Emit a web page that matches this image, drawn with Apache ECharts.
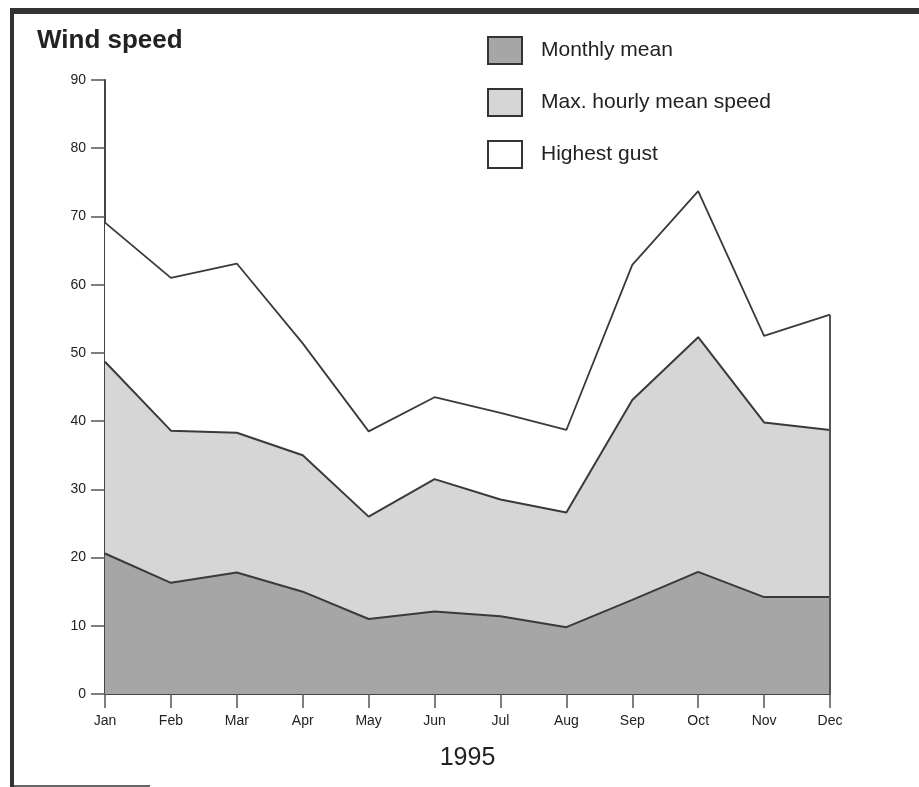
<!DOCTYPE html>
<html>
<head>
<meta charset="utf-8">
<script src="https://cdn.jsdelivr.net/npm/echarts@6/dist/echarts.min.js"></script>
<style>
html,body{margin:0;padding:0;background:#fff;}
#chart{width:919px;height:787px;}
</style>
</head>
<body>
<div id="chart"></div>
<script>
var months = ['Jan','Feb','Mar','Apr','May','Jun','Jul','Aug','Sep','Oct','Nov','Dec'];
var monthlyMean = [20.6, 16.3, 17.8, 15.0, 11.0, 12.1, 11.4, 9.8, 13.8, 17.9, 14.2, 14.2];
var maxHourly = [48.7, 38.6, 38.3, 35.0, 26.0, 31.5, 28.5, 26.6, 43.1, 52.3, 39.8, 38.7];
var highestGust = [69.1, 61.0, 63.1, 51.4, 38.5, 43.5, 41.2, 38.7, 62.9, 73.7, 52.5, 55.6];
var yearLabel = '1995';

var chart = echarts.init(document.getElementById('chart'), null, {renderer:'canvas'});
var lineCol = '#3a3a3a';
var font = 'Liberation Sans, Arial, sans-serif';

var option = {
  backgroundColor: '#ffffff',
  animation: false,
  title: {
    text: 'Wind speed',
    left: 32, top: 23,
    textStyle: {fontFamily: font, fontSize: 26, fontWeight: 'bold', color: '#222'}
  },
  legend: {
    orient: 'vertical',
    left: 482, top: 31,
    itemWidth: 34, itemHeight: 27, itemGap: 23,
    icon: 'rect',
    selectedMode: false,
    textStyle: {fontFamily: font, fontSize: 21, color: '#222', padding: [0,0,0,14]},
    data: [
      {name: 'Monthly mean', itemStyle: {color: '#a6a6a6', borderColor: '#333', borderWidth: 2}},
      {name: 'Max. hourly mean speed', itemStyle: {color: '#d6d6d6', borderColor: '#333', borderWidth: 2}},
      {name: 'Highest gust', itemStyle: {color: '#ffffff', borderColor: '#333', borderWidth: 2}}
    ]
  },
  grid: {left: 105, right: 89, top: 80, bottom: 93},
  xAxis: {
    type: 'category',
    data: months,
    boundaryGap: false,
    name: yearLabel,
    nameLocation: 'middle',
    nameGap: 52,
    nameTextStyle: {fontFamily: font, fontSize: 25, color: '#222'},
    axisLine: {lineStyle: {color: '#444', width: 2}},
    axisTick: {length: 14, lineStyle: {color: '#555', width: 1.5}},
    axisLabel: {fontFamily: font, fontSize: 14, color: '#222', margin: 20},
    splitLine: {show: false}
  },
  yAxis: {
    type: 'value',
    min: 0, max: 90, interval: 10,
    axisLine: {show: true, lineStyle: {color: '#444', width: 2}},
    axisTick: {show: true, length: 14, lineStyle: {color: '#555', width: 1.5}},
    axisLabel: {fontFamily: font, fontSize: 14, color: '#222', margin: 19},
    splitLine: {show: false}
  },
  series: [
    {
      name: 'Highest gust', type: 'line', data: highestGust,
      showSymbol: false, symbol: 'none', silent: true,
      itemStyle: {color: '#ffffff'},
      lineStyle: {color: lineCol, width: 1.8},
      areaStyle: {color: '#ffffff', opacity: 1},
      markLine: {
        silent: true, symbol: 'none', label: {show: false},
        lineStyle: {color: '#555', width: 2, type: 'solid'},
        data: [[{coord: [months.length - 1, 0]}, {coord: [months.length - 1, highestGust[highestGust.length - 1]]}]]
      }
    },
    {
      name: 'Max. hourly mean speed', type: 'line', data: maxHourly,
      showSymbol: false, symbol: 'none', silent: true,
      itemStyle: {color: '#d6d6d6'},
      lineStyle: {color: lineCol, width: 2},
      areaStyle: {color: '#d6d6d6', opacity: 1}
    },
    {
      name: 'Monthly mean', type: 'line', data: monthlyMean,
      showSymbol: false, symbol: 'none', silent: true,
      itemStyle: {color: '#a6a6a6'},
      lineStyle: {color: lineCol, width: 2},
      areaStyle: {color: '#a6a6a6', opacity: 1}
    }
  ],
  graphic: [
    {type: 'rect', shape: {x: 12, y: 8, width: 907, height: 6}, style: {fill: '#333'}},
    {type: 'rect', shape: {x: 10, y: 8, width: 4, height: 779}, style: {fill: '#333'}},
    {type: 'line', shape: {x1: 12, y1: 786, x2: 150, y2: 786}, style: {stroke: '#333', lineWidth: 1.5}}
  ]
};
chart.setOption(option);
</script>
</body>
</html>
